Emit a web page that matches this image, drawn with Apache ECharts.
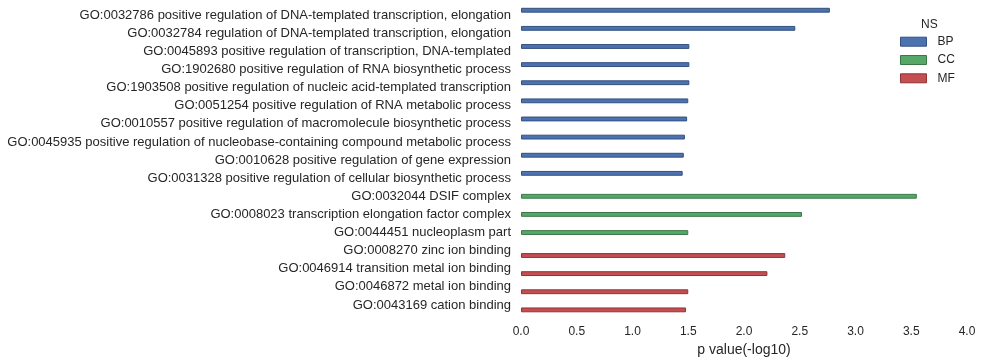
<!DOCTYPE html>
<html>
<head>
<meta charset="utf-8">
<script src="https://cdn.jsdelivr.net/npm/echarts@6/dist/echarts.min.js"></script>
<style>html,body{margin:0;padding:0;background:#fff;}#c{width:983px;height:362px;}</style>
</head>
<body>
<div id="c"></div>
<script>
const categories = [
  "GO:0032786 positive regulation of DNA-templated transcription, elongation",
  "GO:0032784 regulation of DNA-templated transcription, elongation",
  "GO:0045893 positive regulation of transcription, DNA-templated",
  "GO:1902680 positive regulation of RNA biosynthetic process",
  "GO:1903508 positive regulation of nucleic acid-templated transcription",
  "GO:0051254 positive regulation of RNA metabolic process",
  "GO:0010557 positive regulation of macromolecule biosynthetic process",
  "GO:0045935 positive regulation of nucleobase-containing compound metabolic process",
  "GO:0010628 positive regulation of gene expression",
  "GO:0031328 positive regulation of cellular biosynthetic process",
  "GO:0032044 DSIF complex",
  "GO:0008023 transcription elongation factor complex",
  "GO:0044451 nucleoplasm part",
  "GO:0008270 zinc ion binding",
  "GO:0046914 transition metal ion binding",
  "GO:0046872 metal ion binding",
  "GO:0043169 cation binding"
];
const namespaces = ["BP", "CC", "MF"];
const termNS = ["BP","BP","BP","BP","BP","BP","BP","BP","BP","BP","CC","CC","CC","MF","MF","MF","MF"];
const pValues = [2.77, 2.46, 1.51, 1.51, 1.51, 1.50, 1.49, 1.47, 1.46, 1.45, 3.55, 2.52, 1.50, 2.37, 2.21, 1.50, 1.48];
const xTicks = { min: 0, max: 4, interval: 0.5 };
const colors = { BP: "#4C72B0", CC: "#55A868", MF: "#C44E52" };
const borders = { BP: "#34507e", CC: "#3b7749", MF: "#8c3538" };

const FONT = "Liberation Sans, Arial, sans-serif";
const TXT = "#262626";

const series = namespaces.map(ns => ({
  name: ns,
  type: "bar",
  data: pValues.map((v, i) => termNS[i] === ns ? v : "-"),
  barGap: "0%",
  barCategoryGap: "20%",
  itemStyle: { color: colors[ns], borderColor: borders[ns], borderWidth: 1 },
  emphasis: { disabled: true }
}));

const chart = echarts.init(document.getElementById("c"), null, { renderer: "canvas" });
chart.setOption({
  animation: false,
  backgroundColor: "#fff",
  textStyle: { fontFamily: FONT, color: TXT },
  grid: { left: 521, right: 16, top: 6, bottom: 47.5, containLabel: false },
  xAxis: {
    type: "value",
    min: xTicks.min, max: xTicks.max, interval: xTicks.interval,
    name: "p value(-log10)",
    nameLocation: "middle",
    nameGap: 28,
    nameTextStyle: { fontSize: 14, color: TXT, fontFamily: FONT },
    axisLine: { show: false },
    axisTick: { show: false },
    splitLine: { show: false },
    axisLabel: { fontSize: 12, color: TXT, fontFamily: FONT, margin: 12, formatter: v => v.toFixed(1) }
  },
  yAxis: {
    type: "category",
    data: categories,
    inverse: true,
    axisLine: { show: false },
    axisTick: { show: false },
    splitLine: { show: false },
    axisLabel: { fontSize: 13, color: TXT, fontFamily: FONT, margin: 10 }
  },
  legend: {
    data: namespaces,
    orient: "vertical",
    left: 900,
    top: 35.7,
    padding: 0,
    itemWidth: 26,
    itemHeight: 9,
    itemGap: 6.3,
    icon: "rect",
    textStyle: { fontSize: 12, lineHeight: 12, color: TXT, fontFamily: FONT, padding: [0, 0, 0, 6] },
    itemStyle: { borderWidth: 1 }
  },
  graphic: [{
    type: "text",
    left: 921,
    top: 19,
    style: { text: "NS", fontSize: 12, fill: TXT, fontFamily: FONT }
  }],
  series: series
});
</script>
</body>
</html>
